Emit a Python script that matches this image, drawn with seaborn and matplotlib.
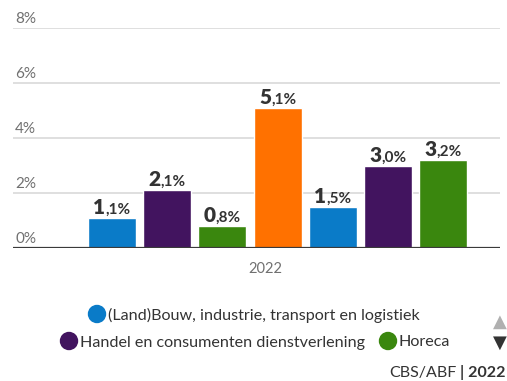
import matplotlib
matplotlib.use("Agg")
import matplotlib.pyplot as plt
import matplotlib.transforms as mtransforms
import seaborn as sns
import pandas as pd

# Share of sick leave per sector, 2022
year_label = "2022"
bar_ids = ["s1", "s2", "s3", "s4", "s5", "s6", "s7"]
values = [1.1, 2.1, 0.8, 5.1, 1.5, 3.0, 3.2]
bar_colors = ["#0a7bc8", "#42145f", "#3a870e", "#ff7100",
              "#0a7bc8", "#42145f", "#3a870e"]
legend_names = ["(Land)Bouw, industrie, transport en logistiek",
                "Handel en consumenten dienstverlening",
                "Horeca"]
legend_colors = ["#0a7bc8", "#42145f", "#3a870e"]
y_ticks = [0, 2, 4, 6, 8]
source_text = "CBS/ABF"
source_year = "| 2022"

sns.set_style("white")
plt.rcParams["font.family"] = ["Lato", "DejaVu Sans"]

W, H = 507, 381
fig = plt.figure(figsize=(W / 100, H / 100), dpi=100)
ax = fig.add_axes([13 / W, (H - 248) / H, (500 - 13) / W, 220 / H])

df = pd.DataFrame({"bar": bar_ids, "value": values})
sns.barplot(data=df, x="bar", y="value", hue="bar",
            palette=dict(zip(bar_ids, bar_colors)), legend=False,
            width=0.87, saturation=1, ax=ax, zorder=2)

ax.set_xlim(-1.795, 7.03)
ax.set_ylim(0, 8)
ax.set_yticks(y_ticks)
ax.set_xticks([])
ax.set_xlabel("")
ax.set_ylabel("")
ax.tick_params(left=False, bottom=False, labelleft=False)
for s in ax.spines.values():
    s.set_visible(False)
for t in y_ticks[1:]:
    ax.axhline(t, color="#dcdcdc", lw=1.3, zorder=0)
ax.axhline(0, color="#3a3a3a", lw=1.6, zorder=3)

# y tick labels sit just above each gridline, on the left
tick_tr = mtransforms.blended_transform_factory(fig.transFigure, ax.transData)
for t in y_ticks:
    ax.text(15 / W, t, f"{t}%",
            transform=tick_tr + mtransforms.ScaledTranslation(0, 5 / 100, fig.dpi_scale_trans),
            ha="left", va="baseline", fontsize=11, color="#707070")

# category label
fig.text(265 / W, 1 - 273 / H, year_label, ha="center", va="baseline",
         fontsize=10.5, color="#707070")

# value labels: big integer part, smaller decimal part
fig.canvas.draw()
renderer = fig.canvas.get_renderer()
for patch, v in zip(ax.patches, values):
    cx = patch.get_x() + patch.get_width() / 2
    top = patch.get_height()
    whole, frac = f"{v:.1f}".split(".")
    off = mtransforms.ScaledTranslation(0, 4 / 100, fig.dpi_scale_trans)
    t1 = ax.text(cx, top, whole, transform=ax.transData + off, ha="left",
                 va="baseline", fontsize=15, fontweight="heavy", color="#333333", zorder=5)
    t2 = ax.text(cx, top, f",{frac}%", transform=ax.transData + off, ha="left",
                 va="baseline", fontsize=11, fontweight="bold", color="#333333", zorder=5)
    w1 = t1.get_window_extent(renderer).width
    w2 = t2.get_window_extent(renderer).width
    total = w1 + w2
    shift1 = mtransforms.ScaledTranslation(-total / 2 / 100, 4 / 100, fig.dpi_scale_trans)
    shift2 = mtransforms.ScaledTranslation((-total / 2 + w1) / 100, 4 / 100, fig.dpi_scale_trans)
    t1.set_transform(ax.transData + shift1)
    t2.set_transform(ax.transData + shift2)

# legend rows
legend_pos = [(97, 314), (69, 341), (388, 341)]
for (px, py), name, col in zip(legend_pos, legend_names, legend_colors):
    fig.add_artist(matplotlib.patches.Ellipse((px / W, 1 - py / H), 17 / W, 17 / H,
                                              transform=fig.transFigure,
                                              color=col, zorder=4))
    fig.text((px + 11) / W, 1 - py / H, name, ha="left", va="center_baseline",
             fontsize=11.6, color="#333333")

# pager arrows
fig.text(500 / W, 1 - 322 / H, "\u25B2", ha="center", va="center",
         fontsize=13, color="#b0b0b0", family=["DejaVu Sans"])
fig.text(500 / W, 1 - 343 / H, "\u25BC", ha="center", va="center",
         fontsize=13, color="#333333", family=["DejaVu Sans"])

# source line
t_year = fig.text(505 / W, 1 - 377 / H, source_year, ha="right", va="baseline",
                  fontsize=11.5, fontweight="bold", color="#333333")
fig.canvas.draw()
wy = t_year.get_window_extent(fig.canvas.get_renderer()).width
fig.text((505 - wy - 3) / W, 1 - 377 / H, source_text, ha="right", va="baseline",
         fontsize=11.5, color="#333333")

fig.savefig("out.png", dpi=100)
